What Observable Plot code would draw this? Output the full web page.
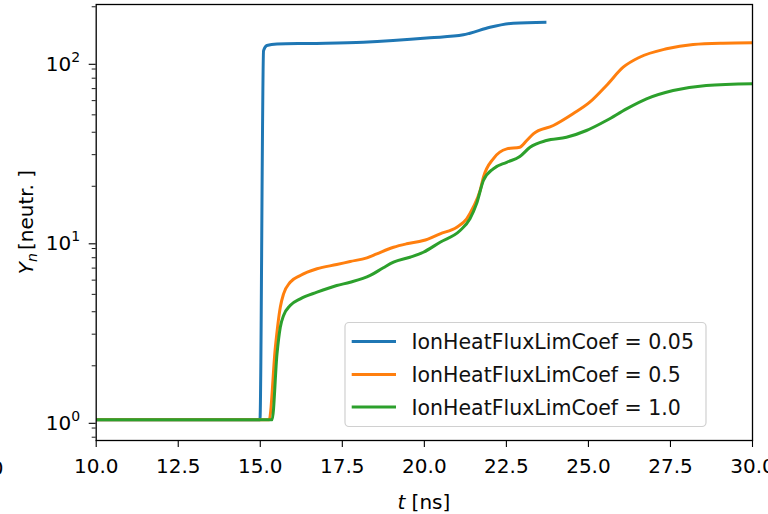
<!DOCTYPE html>
<html>
<head>
<meta charset="utf-8">
<script src="https://cdn.jsdelivr.net/npm/d3@7"></script>
<script src="https://cdn.jsdelivr.net/npm/@observablehq/plot@0.6"></script>
<style>
  html, body { margin: 0; padding: 0; background: white; overflow: hidden; }
  #chart { width: 768px; height: 514px; position: relative; overflow: hidden; }
</style>
</head>
<body>
<div id="chart"></div>
<script>
// Series labels and colours
const seriesNames = [
  "IonHeatFluxLimCoef = 0.05",
  "IonHeatFluxLimCoef = 0.5",
  "IonHeatFluxLimCoef = 1.0"
];
const seriesColors = ["#1f77b4", "#ff7f0e", "#2ca02c"];

// Time (ns) and neutron yield values
const tBlue = [10, 14.99, 15.10, 15.20, 15.51, 16.5, 18.14, 20.17, 21.19, 21.39, 22.0, 22.71, 23.72];
const yBlue = [1, 1, 114, 121.7, 124, 125, 126.9, 134.3, 139.6, 142.5, 153.8, 162, 164];

const tOrange = [10, 15.27, 15.46, 15.61, 15.71, 15.91, 16.22, 16.73, 17.33, 17.74, 18.25, 18.55, 19.06, 19.46, 19.97, 20.48, 20.99, 21.29, 21.49, 21.70, 21.80, 22.10, 22.51, 22.91, 23.12, 23.32, 23.93, 24.53, 25.04, 25.55, 26.06, 26.56, 27.38, 28.19, 29.10, 30];
const yOrange = [1, 1, 2.54, 4.24, 5.03, 5.84, 6.37, 6.94, 7.33, 7.62, 7.99, 8.41, 9.15, 9.56, 9.97, 10.87, 11.83, 13.18, 15.29, 18.94, 22.46, 28.45, 32.3, 33.0, 35.97, 39.2, 43.6, 50.7, 58.8, 72.9, 92.1, 104.7, 116.7, 123.3, 125.4, 126];

const tGreen = [10, 15.36, 15.51, 15.61, 15.71, 15.91, 16.22, 16.73, 17.33, 17.74, 18.35, 18.75, 19.06, 19.56, 19.97, 20.48, 21.09, 21.39, 21.59, 21.80, 22.10, 22.51, 22.91, 23.22, 23.72, 24.33, 24.94, 25.55, 26.16, 26.77, 27.58, 28.59, 30];
const yGreen = [1, 1, 2.33, 3.28, 3.81, 4.33, 4.72, 5.14, 5.60, 5.84, 6.37, 7.03, 7.55, 8.05, 8.58, 9.76, 11.34, 13.18, 15.97, 21.54, 25.02, 27.2, 29.3, 33.0, 35.97, 37.5, 40.9, 46.5, 54.0, 61.4, 68.3, 72.9, 74.5];

// Tick values
const xTicks = [10, 12.5, 15, 17.5, 20, 22.5, 25, 27.5, 30];
const yMajorTicks = [1, 10, 100];
const yMinorTicks = [0.8, 0.9, 2, 3, 4, 5, 6, 7, 8, 9, 20, 30, 40, 50, 60, 70, 80, 90, 200];

const xDomain = [10, 30];
const yDomain = [0.767, 205.9];

// Build table
const rows = [];
[[tBlue, yBlue], [tOrange, yOrange], [tGreen, yGreen]].forEach(([ts, ys], i) => {
  ts.forEach((t, j) => rows.push({t, y: ys[j], series: seriesNames[i]}));
});

const W = 768, H = 514;
const mL = 95.7, mR = 16, mT = 4, mB = 74;
const FONT = "DejaVu Sans";

const plot = Plot.plot({
  width: W, height: H,
  marginLeft: mL, marginRight: mR, marginTop: mT, marginBottom: mB,
  style: {fontFamily: FONT, fontSize: "20px", color: "black", background: "white", overflow: "visible"},
  x: {domain: xDomain},
  y: {type: "log", domain: yDomain},
  color: {domain: seriesNames, range: seriesColors},
  marks: [
    Plot.line(rows, {x: "t", y: "y", z: "series", stroke: "series", strokeWidth: 3, curve: "monotone-x", strokeLinejoin: "round", strokeLinecap: "butt"}),
    Plot.axisX({ticks: xTicks, tickFormat: d3.format(".1f"), tickSize: 7, tickPadding: 11, label: null, strokeWidth: 1.1}),
    Plot.axisY({ticks: yMajorTicks, tickFormat: d => String(Math.round(Math.log10(d))), tickSize: 7, tickPadding: 9, dy: 3.5, label: null, strokeWidth: 1.1}),
    Plot.axisY({ticks: yMinorTicks, tickFormat: () => "", tickSize: 4, label: null, strokeWidth: 0.9}),
    Plot.frame({stroke: "black", strokeWidth: 1.3})
  ]
});

document.getElementById("chart").appendChild(plot);
const svg = d3.select(plot);

// Render y tick labels as 10^n with raised exponent
svg.selectAll('[aria-label="y-axis tick label"] text').each(function() {
  const el = d3.select(this);
  const exp = el.text();
  if (!exp) return;
  el.text(null);
  el.append("tspan").text("10");
  el.append("tspan").attr("font-size", "14px").attr("dy", "-9").text(exp);
});

// Axis titles
svg.append("text")
  .attr("transform", `translate(33,${(mT + H - mB) / 2}) rotate(-90)`)
  .attr("text-anchor", "middle")
  .attr("font-family", FONT).attr("font-size", "20px").attr("fill", "black")
  .call(t => {
    t.append("tspan").attr("font-style", "italic").text("Y");
    t.append("tspan").attr("font-style", "italic").attr("font-size", "14px").attr("dy", "4").text("n");
    t.append("tspan").attr("dy", "-4").attr("dx", "3").text("[neutr. ]");
  });

svg.append("text")
  .attr("x", (mL + W - mR) / 2).attr("y", 509)
  .attr("text-anchor", "middle")
  .attr("font-family", FONT).attr("font-size", "20px").attr("fill", "black")
  .call(t => {
    t.append("tspan").attr("font-style", "italic").text("t");
    t.append("tspan").text(" [ns]");
  });

// Clipped fragment at the far left edge
svg.append("text")
  .attr("x", 3.5).attr("y", 475)
  .attr("text-anchor", "end")
  .attr("font-family", FONT).attr("font-size", "20px").attr("fill", "black")
  .text("0");

// Legend
const lg = svg.append("g");
lg.append("rect")
  .attr("x", 345).attr("y", 322.5).attr("width", 361).attr("height", 104)
  .attr("rx", 4).attr("fill", "white").attr("fill-opacity", 0.8)
  .attr("stroke", "#d0d0d0").attr("stroke-width", 1.2);
const rowY = [341.5, 374.5, 407];
seriesNames.forEach((name, i) => {
  lg.append("line")
    .attr("x1", 351.7).attr("x2", 396).attr("y1", rowY[i]).attr("y2", rowY[i])
    .attr("stroke", seriesColors[i]).attr("stroke-width", 2.8);
  lg.append("text")
    .attr("x", 411.5).attr("y", rowY[i] + 7.5)
    .attr("text-anchor", "start")
    .attr("font-family", FONT).attr("font-size", "20.5px").attr("fill", "#111")
    .text(name);
});
</script>
</body>
</html>
